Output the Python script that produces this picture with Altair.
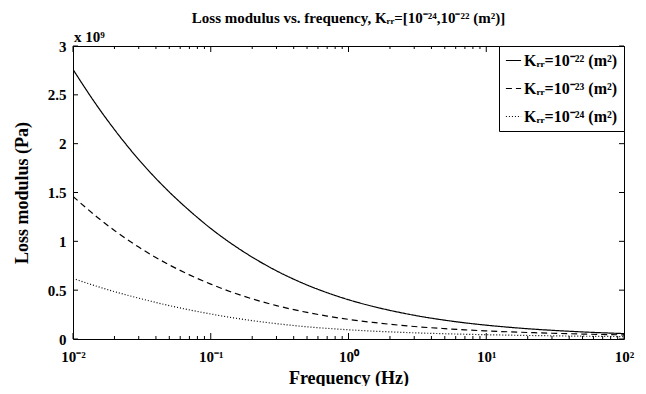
import altair as alt
import pandas as pd

# ---- data (loss modulus in units of 1e9 Pa) ----
freq = [0.01, 0.015, 0.02, 0.03, 0.05, 0.07, 0.1, 0.15, 0.2, 0.3, 0.5, 0.7,
        1, 1.5, 2, 3, 5, 7, 10, 15, 20, 30, 50, 70, 100]
k22 = [2.76, 2.385, 2.144, 1.837, 1.505, 1.315, 1.132, 0.951, 0.838, 0.698, 0.553, 0.474,
       0.402, 0.334, 0.293, 0.243, 0.1925, 0.1655, 0.1415, 0.119, 0.105, 0.089, 0.0725, 0.0636, 0.0555]
k23 = [1.46, 1.247, 1.111, 0.941, 0.759, 0.657, 0.562, 0.468, 0.411, 0.342, 0.272, 0.235,
       0.201, 0.170, 0.151, 0.128, 0.106, 0.0936, 0.0829, 0.0728, 0.0666, 0.059, 0.0509, 0.0463, 0.042]
k24 = [0.62, 0.538, 0.485, 0.418, 0.342, 0.298, 0.256, 0.214, 0.188, 0.157, 0.125, 0.109,
       0.0943, 0.0808, 0.0729, 0.0635, 0.0539, 0.0487, 0.0439, 0.0392, 0.0363, 0.0327, 0.0288, 0.0266, 0.0245]
series_labels = ["Kᵣᵣ=10⁻²² (m²)", "Kᵣᵣ=10⁻²³ (m²)", "Kᵣᵣ=10⁻²⁴ (m²)"]

x_major = [0.01, 0.1, 1, 10, 100]
x_minor = [0.02, 0.03, 0.04, 0.05, 0.06, 0.07, 0.08, 0.09,
           0.2, 0.3, 0.4, 0.5, 0.6, 0.7, 0.8, 0.9,
           2, 3, 4, 5, 6, 7, 8, 9,
           20, 30, 40, 50, 60, 70, 80, 90]
y_ticks = [0, 0.5, 1, 1.5, 2, 2.5, 3]

title_text = "Loss modulus vs. frequency, Kᵣᵣ=[10⁻²⁴,10⁻²² (m²)]"
exp_text = "x 10⁹"

FONT = "Liberation Serif"
W, H = 551, 293

rows = []
for lab, vals in zip(series_labels, [k22, k23, k24]):
    for f, v in zip(freq, vals):
        rows.append({"freq": f, "G": v, "series": lab})
df = pd.DataFrame(rows)

xlab = ("datum.value < 0.05 ? '10⁻²' : datum.value < 0.5 ? '10⁻¹' : "
        "datum.value < 5 ? '10⁰' : datum.value < 50 ? '10¹' : '10²'")

xscale = alt.Scale(type="log", domain=[0.01, 100], nice=False)
yscale = alt.Scale(domain=[0, 3], nice=False)

lines = alt.Chart(df).mark_line(color="black", strokeWidth=1.2, interpolate="monotone", clip=True).encode(
    x=alt.X("freq:Q", scale=xscale,
            axis=alt.Axis(values=x_major, labelExpr=xlab, ticks=False, domain=False, grid=False,
                          title="Frequency (Hz)", labelPadding=10, titlePadding=5, labelFlush=False)),
    y=alt.Y("G:Q", scale=yscale,
            axis=alt.Axis(values=y_ticks, format="~g", ticks=False, domain=False, grid=False,
                          title="Loss modulus (Pa)", labelPadding=7, titlePadding=16)),
    strokeDash=alt.StrokeDash("series:N",
                              scale=alt.Scale(domain=series_labels, range=[[1, 0], [6, 4], [1, 2]]),
                              legend=alt.Legend(title=None, orient="top-right", offset=0,
                                                strokeColor="black", fillColor="white",
                                                padding=6, rowPadding=11,
                                                symbolType="stroke", symbolSize=230,
                                                symbolStrokeColor="black", symbolStrokeWidth=1.2,
                                                labelFont=FONT, labelFontSize=16, labelFontWeight="bold",
                                                labelColor="black", labelLimit=0, labelOffset=2)),
)

xmaj = pd.DataFrame({"freq": x_major})
xmin = pd.DataFrame({"freq": x_minor})
ydf = pd.DataFrame({"G": y_ticks})

def xticks(data, L):
    bot = alt.Chart(data).mark_rule(color="black", strokeWidth=1).encode(
        x="freq:Q", y=alt.value(H), y2=alt.value(H - L))
    top = alt.Chart(data).mark_rule(color="black", strokeWidth=1).encode(
        x="freq:Q", y=alt.value(0), y2=alt.value(L))
    return [bot, top]

yl = alt.Chart(ydf).mark_rule(color="black").encode(y="G:Q", x=alt.value(0), x2=alt.value(5))
yr = alt.Chart(ydf).mark_rule(color="black").encode(y="G:Q", x=alt.value(W), x2=alt.value(W - 5))

exp = alt.Chart(pd.DataFrame({"t": [exp_text]})).mark_text(
    align="left", baseline="bottom", font=FONT, fontSize=15, fontWeight="bold", color="black"
).encode(text="t:N", x=alt.value(1), y=alt.value(-1))

chart = alt.layer(lines, *xticks(xmaj, 6), *xticks(xmin, 3), yl, yr, exp).properties(
    width=W, height=H,
    autosize="none",
    padding={"left": 65, "top": 38, "right": 14, "bottom": 47},
    title=alt.Title(title_text, font=FONT, fontSize=15, fontWeight="bold", color="black",
                    anchor="middle", offset=4),
).configure_view(stroke="black", strokeWidth=1).configure_axis(
    labelFont=FONT, labelFontSize=15, labelFontWeight="bold", labelColor="black",
    titleFont=FONT, titleFontSize=18, titleFontWeight="bold", titleColor="black",
)

chart.save("out.html", embed_options={"renderer": "svg", "actions": False})
